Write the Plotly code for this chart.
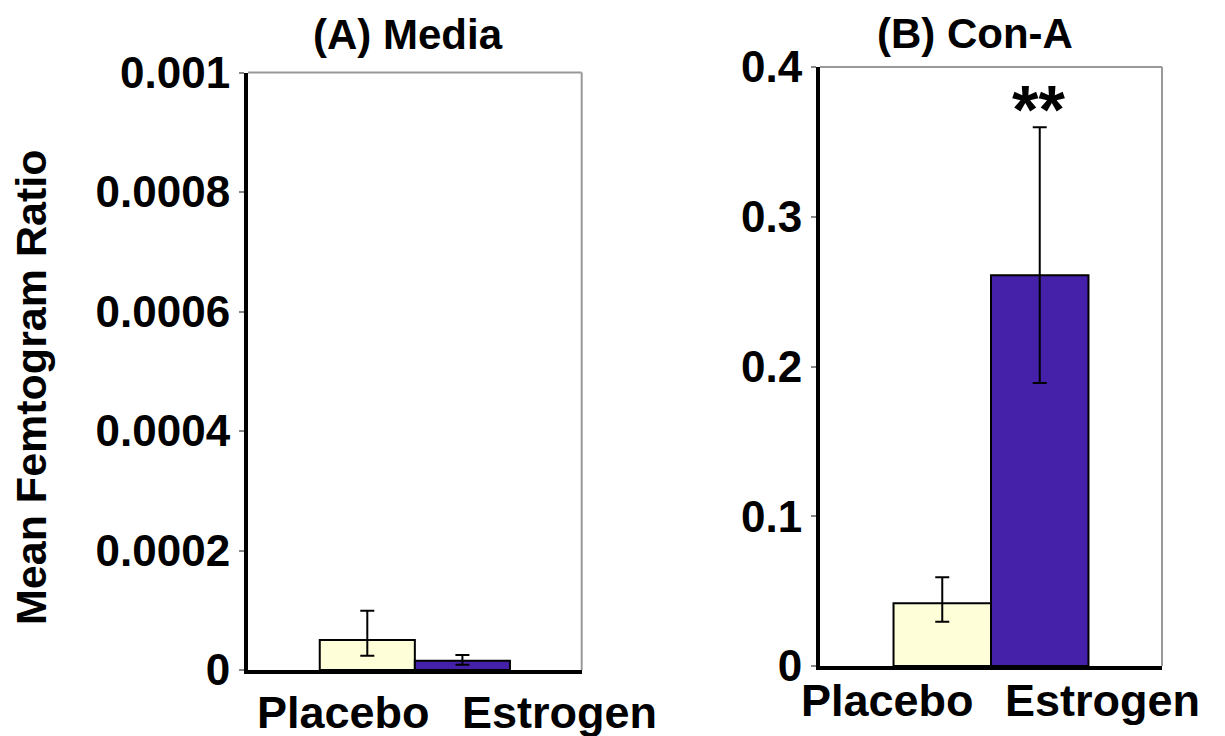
import plotly.graph_objects as go

# ---- data ----
categories = ["Placebo", "Estrogen"]
media_mean = [0.0000502, 0.0000156]
media_err_plus = [0.0000491, 0.0000094]
media_err_minus = [0.0000262, 0.0000067]
cona_mean = [0.0419, 0.261]
cona_err_plus = [0.0173, 0.0987]
cona_err_minus = [0.0123, 0.072]
media_ticks = [0, 0.0002, 0.0004, 0.0006, 0.0008, 0.001]
media_ticktext = ["0", "0.0002", "0.0004", "0.0006", "0.0008", "0.001"]
cona_ticks = [0, 0.1, 0.2, 0.3, 0.4]
cona_ticktext = ["0", "0.1", "0.2", "0.3", "0.4"]
panel_titles = ["(A) Media", "(B) Con-A"]
y_title = "Mean Femtogram Ratio"
sig_mark = "**"

colors = ["#FEFED8", "#4520A8"]
FONT = "Liberation Sans, Arial, sans-serif"
W, H, OFF = 1225, 736, 8


def X(px):
    return (px - OFF) / W


def Y(py):
    return 1 - (py - OFF) / H


fig = go.Figure()

for i, cat in enumerate(categories):
    fig.add_trace(go.Bar(
        x=[""], y=[media_mean[i]], name=cat, xaxis="x", yaxis="y",
        marker=dict(color=colors[i], line=dict(color="black", width=2)),
        error_y=dict(type="data", symmetric=False, array=[media_err_plus[i]],
                     arrayminus=[media_err_minus[i]], color="black",
                     thickness=2, width=7),
        showlegend=False, offsetgroup=str(i)))
    fig.add_trace(go.Bar(
        x=[""], y=[cona_mean[i]], name=cat, xaxis="x2", yaxis="y2",
        marker=dict(color=colors[i], line=dict(color="black", width=2)),
        error_y=dict(type="data", symmetric=False, array=[cona_err_plus[i]],
                     arrayminus=[cona_err_minus[i]], color="black",
                     thickness=2, width=7),
        showlegend=False, offsetgroup=str(i)))

tickfont = dict(family=FONT, size=44, color="black", weight="bold")
common_x = dict(showticklabels=False, showgrid=False, zeroline=False,
                showline=True, linecolor="black", linewidth=4,
                ticks="", fixedrange=True, automargin=False)
common_y = dict(showgrid=False, zeroline=False, showline=True,
                linecolor="black", linewidth=4, ticks="outside",
                ticklen=5, tickcolor="#888888", tickwidth=1.5,
                tickfont=tickfont, fixedrange=True, automargin=False)

fig.update_layout(
    template="none",
    width=W, height=H,
    margin=dict(l=0, r=0, t=0, b=0, autoexpand=False),
    paper_bgcolor="white", plot_bgcolor="white",
    barmode="group", bargap=0.43, bargroupgap=0,
    xaxis=dict(domain=[X(248), X(581.7)], anchor="y", **common_x),
    yaxis=dict(domain=[Y(670), Y(72.5)], anchor="x", range=[0, 0.001],
               tickvals=media_ticks, ticktext=media_ticktext, **common_y),
    xaxis2=dict(domain=[X(820), X(1162)], anchor="y2", **common_x),
    yaxis2=dict(domain=[Y(666), Y(67)], anchor="x2", range=[0, 0.4],
                tickvals=cona_ticks, ticktext=cona_ticktext, **common_y),
)

# gray top/right frame lines
for xr, yr in [("x domain", "y domain"), ("x2 domain", "y2 domain")]:
    fig.add_shape(type="line", xref=xr, yref=yr, x0=0, x1=1, y0=1, y1=1,
                  line=dict(color="#999999", width=2))
    fig.add_shape(type="line", xref=xr, yref=yr, x0=1, x1=1, y0=0, y1=1,
                  line=dict(color="#999999", width=2))


def bold(s):
    return "<b>" + s + "</b>"


def txt(text, px, py, size, yanchor="middle", **kw):
    return dict(text=bold(text), x=X(px), y=Y(py), xref="paper", yref="paper",
                xanchor="center", yanchor=yanchor, showarrow=False,
                font=dict(family=FONT, size=size, color="black"), **kw)


ann = [
    txt(panel_titles[0], 408, 8, 42, yanchor="top", yshift=-1),
    txt(panel_titles[1], 975, 8, 42, yanchor="top"),
    txt(categories[0], 343, 712, 45),
    txt(categories[1], 559, 712, 45),
    txt(categories[0], 887, 700, 45),
    txt(categories[1], 1102, 700, 45),
    txt(y_title, 31, 388, 43, textangle=-90),
    dict(text=bold(sig_mark), x=0.64, y=cona_mean[1] + cona_err_plus[1],
         xref="x2 domain", yref="y2", xanchor="center", yanchor="bottom",
         yshift=-22, showarrow=False,
         font=dict(family=FONT, size=68, color="black")),
]
fig.update_layout(annotations=ann)

fig.write_html("out.html")
